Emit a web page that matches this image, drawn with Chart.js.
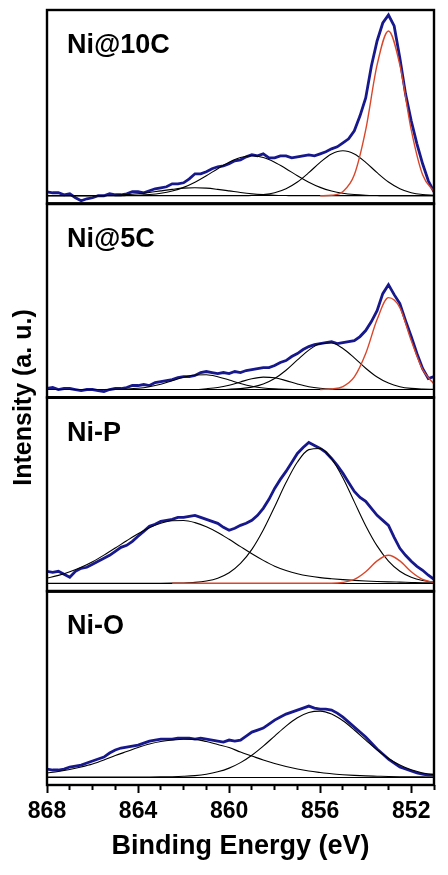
<!DOCTYPE html>
<html>
<head>
<meta charset="utf-8">
<title>Ni 2p XPS</title>
<script src="https://cdn.jsdelivr.net/npm/chart.js@4.4.1/dist/chart.umd.min.js"></script>
<style>
  html, body { margin: 0; padding: 0; background: #fff; }
  #wrap { width: 448px; height: 875px; }
</style>
</head>
<body>
<div id="wrap"><canvas id="xps" width="448" height="875"></canvas></div>
<script>
// binding energy grids (eV): raw spectra every 0.25 eV, fitted peaks every 0.5 eV
const energy = [
  868, 867.75, 867.5, 867.25, 867, 866.75, 866.5, 866.25, 866, 865.75, 865.5, 865.25,
  865, 864.75, 864.5, 864.25, 864, 863.75, 863.5, 863.25, 863, 862.75, 862.5, 862.25,
  862, 861.75, 861.5, 861.25, 861, 860.75, 860.5, 860.25, 860, 859.75, 859.5, 859.25,
  859, 858.75, 858.5, 858.25, 858, 857.75, 857.5, 857.25, 857, 856.75, 856.5, 856.25,
  856, 855.75, 855.5, 855.25, 855, 854.75, 854.5, 854.25, 854, 853.75, 853.5, 853.25,
  853, 852.75, 852.5, 852.25, 852, 851.75, 851.5, 851.25, 851
]
const fitEnergy = [
  868, 867.5, 867, 866.5, 866, 865.5, 865, 864.5, 864, 863.5, 863, 862.5,
  862, 861.5, 861, 860.5, 860, 859.5, 859, 858.5, 858, 857.5, 857, 856.5,
  856, 855.5, 855, 854.5, 854, 853.5, 853, 852.5, 852, 851.5, 851
]
const xTicksMajor = [868, 864, 860, 856, 852]
const panelNames = ['Ni@10C', 'Ni@5C', 'Ni-P', 'Ni-O']

// Ni@10C
const ni10cRaw = [
  4, 3, 3, 1, 2, -2, -5, -3, -2, 0, 0, 2,
  1, 1, 2, 4, 4, 3, 5, 7, 8, 9, 12, 12,
  13, 17, 22, 22, 24, 27, 29, 30, 32, 35, 36, 39,
  41, 40, 42, 38, 38, 40, 40, 38, 39, 40, 41, 40,
  42, 44, 47, 49, 53, 57, 65, 80, 98, 130, 155, 173,
  181, 170, 138, 102, 75, 52, 32, 15, 4
]
const ni10cPeak1 = [0, 0, 0, 0, 0, 0.2, 0.5, 1.1, 2.0, 3.3, 4.9, 6.4, 7.6, 8.0, 7.6, 6.4, 4.9, 3.3, 2.0, 1.1, 0.5, 0.2, 0, 0, 0, 0, 0, 0, 0, 0, 0, 0, 0, 0, 0]
const ni10cPeak2 = [0, 0, 0, 0, 0, 0, 0, 0.2, 0.5, 1.2, 2.5, 4.8, 8.4, 13.6, 20, 27.1, 33.6, 38.3, 40, 38.3, 33.6, 27.1, 20, 13.6, 8.4, 4.8, 2.5, 1.2, 0.5, 0.2, 0, 0, 0, 0, 0]
const ni10cPeak3 = [0, 0, 0, 0, 0, 0, 0, 0, 0, 0, 0, 0, 0, 0, 0, 0, 0, 0, 0.4, 1.2, 3.1, 7.1, 13.8, 23.1, 33.5, 41.8, 45, 41.8, 33.5, 23.1, 13.8, 7.1, 3.1, 1.2, 0.4]
const ni10cMetal = [null, null, null, null, null, null, null, null, null, null, null, null, null, null, null, null, null, null, null, null, null, null, null, null, 0, 0.5, 4.3, 21, 66, 131, 165, 131, 66, 21, 4.3]

// Ni@5C
const ni5cRaw = [
  1, 2, 0, 1, 1, 0, -1, 0, 0, -1, -2, 0,
  1, 1, 2, 4, 4, 5, 4, 7, 8, 9, 10, 12,
  13, 13, 14, 17, 18, 17, 16, 17, 16, 18, 17, 19,
  20, 21, 22, 22, 24, 27, 29, 33, 36, 40, 43, 45,
  46, 47, 48, 46, 47, 48, 49, 53, 59, 68, 79, 96,
  105, 95, 86, 69, 53, 36, 21, 11, 13
]
const ni5cPeak1 = [0, 0, 0, 0, 0, 0, 0.2, 0.5, 1.2, 2.8, 5.3, 8.7, 12.2, 14.6, 14.8, 12.8, 9.5, 6, 3.2, 1.5, 0.6, 0.2, 0, 0, 0, 0, 0, 0, 0, 0, 0, 0, 0, 0, 0]
const ni5cPeak2 = [0, 0, 0, 0, 0, 0, 0, 0, 0, 0, 0, 0, 0, 0, 0.8, 2.0, 4.3, 7.6, 10.8, 12.4, 11.7, 8.9, 5.6, 2.8, 1.2, 0.4, 0.1, 0, 0, 0, 0, 0, 0, 0, 0]
const ni5cPeak3 = [0, 0, 0, 0, 0, 0, 0, 0, 0, 0, 0, 0, 0, 0, 0, 0, 0.3, 0.9, 2.4, 5.5, 11, 19.3, 29.6, 39.4, 45.9, 46.5, 41.1, 31.7, 21.3, 12.5, 6.4, 2.8, 1.1, 0.4, 0.1]
const ni5cMetal = [null, null, null, null, null, null, null, null, null, null, null, null, null, null, null, null, null, null, null, null, null, null, null, null, 0, 0.5, 3, 12.6, 36, 70, 92, 82, 49, 20, 5.5]

// Ni-P
const nipRaw = [
  12, 11, 12, 9, 6, 12, 15, 16, 19, 22, 25, 28,
  32, 36, 38, 42, 47, 52, 57, 59, 62, 63, 64, 66,
  66, 67, 68, 66, 64, 62, 60, 56, 53, 55, 58, 60,
  63, 68, 75, 84, 95, 104, 112, 121, 130, 136, 141, 138,
  135, 131, 125, 118, 110, 101, 92, 86, 82, 75, 68, 63,
  58, 46, 35, 28, 22, 17, 13, 8, 4
]
const nipPeak1 = [5.2, 7.9, 11.5, 16, 21.6, 28.2, 35.3, 42.6, 49.6, 55.6, 60.1, 62.6, 62.8, 60.7, 56.6, 50.9, 44, 36.7, 29.5, 22.9, 17.1, 12.8, 9.5, 7.2, 5.6, 4.5, 3.6, 2.9, 2.3, 1.8, 1.4, 1.1, 0.8, 0.5, 0.3]
const nipPeak2 = [0, 0, 0, 0, 0, 0, 0, 0, 0, 0, 0, 0.1, 0.3, 0.9, 2.3, 5.1, 10.5, 19.8, 33.9, 53.3, 76.6, 100.8, 121.4, 133.8, 135, 124.7, 105.4, 81.5, 57.7, 37.4, 22.2, 12, 6, 2.7, 1.1]
const nipMetal = [null, null, null, null, null, null, null, null, null, null, null, 0, 0, 0, 0, 0, 0, 0, 0, 0, 0, 0, 0, 0, 0, 0, 0.8, 3.8, 11.5, 22.4, 28, 22.4, 11.5, 3.8, 0.8]

// Ni-O
const nioRaw = [
  8, 7, 7, 8, 10, 11, 12, 14, 16, 18, 20, 24,
  27, 29, 30, 31, 32, 34, 36, 37, 38, 38, 38, 39,
  39, 39, 38, 39, 38, 37, 36, 35, 37, 36, 37, 41,
  45, 47, 49, 53, 57, 60, 63, 65, 67, 69, 71, 69,
  68, 68, 67, 64, 60, 55, 50, 45, 40, 34, 28, 23,
  18, 14, 10, 8, 6, 4, 3, 2, 2
]
const nioPeak1 = [4, 5.5, 7.5, 10, 13, 17, 21.5, 25.5, 29.5, 33, 35.5, 37, 37.8, 37.7, 35.5, 32.5, 29.5, 25, 21, 17, 13.5, 10.5, 8, 6, 4.5, 3.2, 2.3, 1.6, 1.1, 0.8, 0.5, 0.3, 0.2, 0.1, 0]
const nioPeak2 = [0, 0, 0, 0, 0, 0, 0, 0, 0, 0, 0.1, 0.3, 0.7, 1.4, 2.8, 5.2, 8.9, 14.4, 21.8, 30.9, 41, 51, 59.3, 64.6, 66, 63, 56.3, 47.1, 37, 27.1, 18.6, 12, 7.2, 4.1, 2.2]

const panelIds = ['p1', 'p2', 'p3', 'p4']
const rawColor = '#16188c'
const fitColor = '#000000'
const metalColor = '#d9472b'
const fontFamily = "'Liberation Sans', Arial, Helvetica, sans-serif"

function toPoints(xs, ys) {
  return xs.map((x, i) => ({ x: x, y: ys[i] }))
}

function fitLine(ys, axis, color) {
  return {
    data: toPoints(fitEnergy, ys),
    yAxisID: axis,
    borderColor: color || fitColor,
    borderWidth: color ? 1.4 : 1.1,
    pointRadius: 0,
    cubicInterpolationMode: 'monotone',
  }
}

function rawLine(ys, axis) {
  return {
    data: toPoints(energy, ys),
    yAxisID: axis,
    borderColor: rawColor,
    borderWidth: 2.8,
    pointRadius: 0,
    tension: 0,
  }
}

// first datasets are drawn on top, so fitted peaks go before the raw spectra
const datasets = [
  fitLine(ni10cMetal, 'p1', metalColor),
  fitLine(ni10cPeak1, 'p1'),
  fitLine(ni10cPeak2, 'p1'),
  fitLine(ni10cPeak3, 'p1'),
  fitLine(ni5cMetal, 'p2', metalColor),
  fitLine(ni5cPeak1, 'p2'),
  fitLine(ni5cPeak2, 'p2'),
  fitLine(ni5cPeak3, 'p2'),
  fitLine(nipMetal, 'p3', metalColor),
  fitLine(nipPeak1, 'p3'),
  fitLine(nipPeak2, 'p3'),
  fitLine(nioPeak1, 'p4'),
  fitLine(nioPeak2, 'p4'),
  rawLine(ni10cRaw, 'p1'),
  rawLine(ni5cRaw, 'p2'),
  rawLine(nipRaw, 'p3'),
  rawLine(nioRaw, 'p4'),
]

function panelScale(weight) {
  return {
    type: 'linear',
    position: 'left',
    stack: 'panels',
    stackWeight: 1,
    weight: weight,
    min: -8,
    max: 186,
    ticks: { display: false },
    border: { display: false },
    grid: { drawTicks: false, color: '#000', lineWidth: 1 },
    // only the zero line of each panel is drawn
    afterBuildTicks: (scale) => {
      scale.ticks = [{ value: 0 }]
    },
  }
}

const panelFrame = {
  id: 'panelFrame',
  afterDatasetsDraw(chart) {
    const { ctx, chartArea } = chart
    const w = chartArea.right - chartArea.left
    ctx.save()
    ctx.strokeStyle = '#000'
    ctx.lineWidth = 2.4
    panelIds.forEach((id) => {
      const s = chart.scales[id]
      ctx.strokeRect(chartArea.left, s.top, w, s.bottom - s.top)
    })
    // panel separators a bit heavier than the outer frame
    ctx.lineWidth = 3
    panelIds.slice(1).forEach((id) => {
      const s = chart.scales[id]
      ctx.beginPath()
      ctx.moveTo(chartArea.left, s.top)
      ctx.lineTo(chartArea.right, s.top)
      ctx.stroke()
    })

    ctx.fillStyle = '#000'
    ctx.textBaseline = 'alphabetic'
    ctx.textAlign = 'left'
    ctx.font = 'bold 27px ' + fontFamily
    panelIds.forEach((id, i) => {
      const s = chart.scales[id]
      ctx.fillText(panelNames[i], chartArea.left + 20, s.top + 43)
    })

    ctx.font = 'bold 25px ' + fontFamily
    ctx.textAlign = 'center'
    ctx.translate(chartArea.left - 16, (chartArea.top + chartArea.bottom) / 2)
    ctx.rotate(-Math.PI / 2)
    ctx.fillText('Intensity (a. u.)', 0, 0)
    ctx.restore()
  },
}

new Chart(document.getElementById('xps'), {
  type: 'line',
  data: { datasets: datasets },
  plugins: [panelFrame],
  options: {
    responsive: false,
    animation: false,
    devicePixelRatio: 1,
    layout: { padding: { left: 47, right: 14, top: 10, bottom: 0 } },
    plugins: { legend: { display: false }, tooltip: { enabled: false } },
    scales: {
      x: {
        type: 'linear',
        position: 'bottom',
        reverse: true,
        min: 851,
        max: 868,
        border: { display: false },
        grid: {
          drawOnChartArea: false,
          drawTicks: true,
          tickLength: 8,
          tickWidth: 2,
          tickColor: '#000',
          // minor ticks drawn shorter with a dash that stops early
          tickBorderDash: (ctx) => (xTicksMajor.includes(ctx.tick.value) ? [] : [5, 20]),
        },
        ticks: {
          stepSize: 1,
          autoSkip: false,
          maxRotation: 0,
          padding: 5,
          color: '#000',
          font: { family: fontFamily, size: 23, weight: 'bold' },
          callback: (v) => (xTicksMajor.includes(v) ? String(v) : ''),
        },
        title: {
          display: true,
          text: 'Binding Energy (eV)',
          color: '#000',
          font: { family: fontFamily, size: 27, weight: 'bold' },
          padding: { top: 0, bottom: 12 },
        },
        afterFit: (scale) => {
          scale.height = 90
        },
      },
      p1: panelScale(4),
      p2: panelScale(3),
      p3: panelScale(2),
      p4: panelScale(1),
    },
  },
})
</script>
</body>
</html>
